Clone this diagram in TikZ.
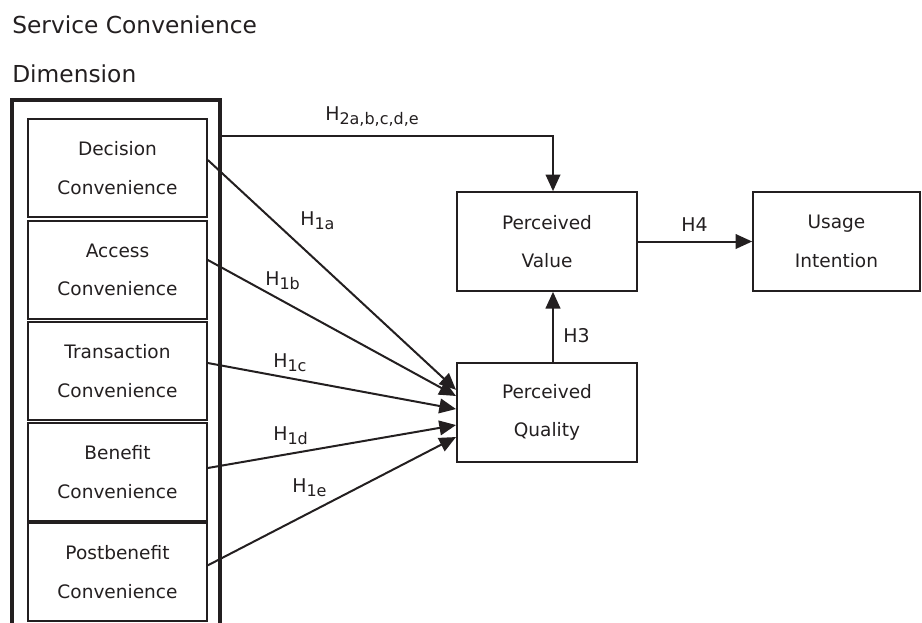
\documentclass[tikz,border=0pt]{standalone}
\usepackage{fontspec}
\setmainfont{DejaVu Sans}
\usetikzlibrary{arrows.meta}
\definecolor{ink}{RGB}{35,31,32}
\newcommand{\hyp}[2]{#1\raisebox{-3.5pt}{\fontsize{12}{12}\selectfont #2}}

\begin{document}
\begin{tikzpicture}[x=0.75pt,y=-0.75pt,
		>={Triangle[length=12.5pt,width=11pt]},
		box/.style={draw=ink, text=ink, line width=1.5pt, align=center, font=\fontsize{13.9}{29}\selectfont},
		dimbox/.style={box, minimum width=134pt, minimum height=73.5pt},
		varbox/.style={box, minimum width=135pt, minimum height=74pt},
		hlabel/.style={anchor=base west, inner sep=0pt, text=ink, font=\fontsize{14.2}{16}\selectfont},
		link/.style={->, draw=ink, line width=1.5pt}]
				\useasboundingbox (0,0) rectangle (922,622);
				\node[hlabel, font=\fontsize{17.5}{20}\selectfont] (T1) at (12,33) {Service Convenience};
				\node[hlabel, font=\fontsize{17.5}{20}\selectfont] (T2) at (12,82) {Dimension};
				\draw[ink, line width=3.4pt] (12,630) -- (12,100) -- (220,100) -- (220,630);
	
				\node[dimbox] (DC) at (117.5,168) {Decision\\Convenience};
				\node[dimbox] (AC) at (117.5,270) {Access\\Convenience};
				\node[dimbox] (TC) at (117.5,371) {Transaction\\Convenience};
				\node[dimbox] (BC) at (117.5,472) {Benefit\\Convenience};
				\node[dimbox] (PC) at (117.5,572) {Postbenefit\\Convenience};
				\node[varbox] (PV) at (547,241.5) {Perceived\\Value};
				\node[varbox] (PQ) at (547,412.5) {Perceived\\Quality};
				\node[varbox, minimum width=125pt] (UI) at (836.5,241.5) {Usage\\Intention};
	
				\coordinate (H2s) at (220,136);
				\coordinate (H2c) at (553,136);
				\draw[link] (H2s) -- (H2c) -- (H2c |- PV.north);
				\path ([yshift=6pt]DC.east) edge[link] ([yshift=17pt]PQ.west);
				\path ([yshift=7.5pt]AC.east) edge[link] ([yshift=12.4pt]PQ.west);
				\path ([yshift=6pt]TC.east) edge[link] ([yshift=2.6pt]PQ.west);
				\path ([yshift=3pt]BC.east) edge[link] ([yshift=-9.4pt]PQ.west);
				\path ([yshift=5pt]PC.east) edge[link] ([yshift=-18.4pt]PQ.west);
				\path ([xshift=4.5pt]PQ.north) edge[link] ([xshift=4.5pt]PV.south);
				\path (PV.east) edge[link] (UI.west);
	
				\node[hlabel] (L2) at (325,120) {\hyp{H}{2a,b,c,d,e}};
				\node[hlabel] (L1a) at (300,225) {\hyp{H}{1a}};
				\node[hlabel] (L1b) at (265,285) {\hyp{H}{1b}};
				\node[hlabel] (L1c) at (273,367) {\hyp{H}{1c}};
				\node[hlabel] (L1d) at (273,440) {\hyp{H}{1d}};
				\node[hlabel] (L1e) at (292,492) {\hyp{H}{1e}};
				\node[hlabel] (L3) at (563,342) {H3};
				\node[hlabel] (L4) at (681,231) {H4};
			\end{tikzpicture}
\end{document}
